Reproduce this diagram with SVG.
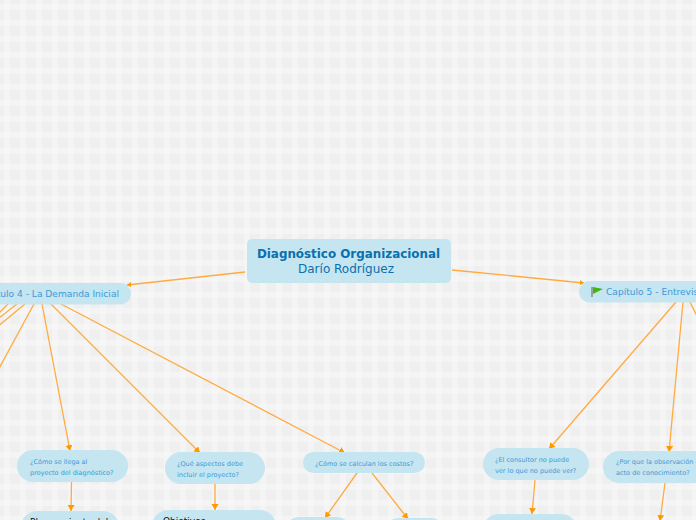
<svg xmlns="http://www.w3.org/2000/svg" width="696" height="520" viewBox="0 0 696 520">
<style>
.n{fill:#c5e5f1}
.c{stroke:#ffab40;stroke-width:1.300;fill:none;marker-end:url(#a)}
.s{stroke:#ffab40;stroke-width:1.300;fill:none;marker-end:url(#b)}
text{font-family:"DejaVu Sans",Verdana,sans-serif}
.h{font-size:9.100px;fill:#3d9ad8}
.q{font-size:6.500px;fill:#3d9ad8}
.k{font-size:9px;fill:#111}
</style>
<defs>
<pattern id="bg" width="16" height="16" patternUnits="userSpaceOnUse">
<rect width="16" height="16" fill="#efefef"/>
<rect x="4" width="6" height="16" fill="#f7f7f7" opacity=".7"/>
<rect y="4" width="16" height="6" fill="#f7f7f7" opacity=".7"/>
</pattern>
<marker id="a" markerUnits="userSpaceOnUse" markerWidth="9" markerHeight="8" refX="6" refY="3.500" orient="auto">
<path d="M0 0L6 3.500L0 7Z" fill="#ff9900"/>
</marker>
<marker id="b" markerUnits="userSpaceOnUse" markerWidth="6" markerHeight="6" refX="4" refY="2.500" orient="auto">
<path d="M0 0L4 2.500L0 5Z" fill="#ff9900"/>
</marker>
</defs>
<rect id="background" width="696" height="520" fill="url(#bg)"/>
<g id="connectors">
<path class="s" d="M245 272L127 285"/>
<path class="s" d="M452 270L584 283"/>
<path class="c" d="M61 304L345 453"/>
<path class="c" d="M51 304L200 453"/>
<path class="c" d="M42 304L70 451"/>
<path class="c" d="M34 304L-10 385"/>
<path class="c" d="M25 304L-10 333"/>
<path class="c" d="M17 304L-10 325"/>
<path class="c" d="M8 304L-10 322"/>
<path class="c" d="M676 302L549 449"/>
<path class="c" d="M683 302L669 452"/>
<path class="c" d="M690 302L712 346"/>
<path class="c" d="M71.500 482L71 511"/>
<path class="c" d="M215 484L215 510"/>
<path class="c" d="M357 473L325 518"/>
<path class="c" d="M372 473L408 519"/>
<path class="c" d="M535 480L532 514"/>
<path class="c" d="M665 483L660 521"/>
</g>
<g id="root">
<rect class="n" x="247" y="239" width="204" height="44" rx="5"/>
<text x="348.500" y="258" text-anchor="middle" font-size="11.900" font-weight="700" fill="#0a70ad">Diagnóstico Organizacional</text>
<text x="346" y="273" text-anchor="middle" font-size="12" fill="#0a70ad">Darío Rodríguez</text>
</g>
<g id="cap4">
<rect class="n" x="-40" y="283" width="171" height="21.500" rx="10.700"/>
<text class="h" x="119" y="297" text-anchor="end">Capítulo 4 - La Demanda Inicial</text>
</g>
<g id="cap5">
<rect class="n" x="579" y="281" width="160" height="21.500" rx="10.700"/>
<path d="M592 287V297" stroke="#8a8a8a" stroke-width="1.500"/>
<path d="M593 287L603 289L593 294Z" fill="#3fb80f"/>
<text class="h" x="606" y="295">Capítulo 5 - Entrevis</text>
</g>
<g id="q1">
<rect class="n" x="17" y="450" width="111" height="32" rx="16"/>
<text class="q" x="30" y="464">¿Cómo se llega al</text>
<text class="q" x="30" y="475">proyecto del diagnóstico?</text>
</g>
<g id="q2">
<rect class="n" x="165" y="452" width="100" height="32" rx="16"/>
<text class="q" x="177" y="466">¿Qué aspectos debe</text>
<text class="q" x="177" y="477">incluir el proyecto?</text>
</g>
<g id="q3">
<rect class="n" x="303" y="452" width="122" height="21" rx="10.500"/>
<text class="q" x="315" y="465.500">¿Cómo se calculan los costos?</text>
</g>
<g id="q4">
<rect class="n" x="483" y="448" width="106" height="32" rx="16"/>
<text class="q" x="495" y="462">¿El consultor no puede</text>
<text class="q" x="495" y="473">ver lo que no puede ver?</text>
</g>
<g id="q5">
<rect class="n" x="603" y="451" width="130" height="32" rx="16"/>
<text class="q" x="616" y="464">¿Por que la observación e</text>
<text class="q" x="616" y="475">acto de conocimiento?</text>
</g>
<g id="k1">
<rect class="n" x="21" y="511" width="98" height="40" rx="16"/>
<text class="k" x="30" y="525">Planeamiento del</text>
</g>
<g id="k2">
<rect class="n" x="152" y="510" width="124" height="40" rx="16"/>
<text class="k" x="163" y="524">Objetivos</text>
</g>
<g id="k3"><rect class="n" x="285" y="517" width="66" height="30" rx="14"/></g>
<g id="k4"><rect class="n" x="385" y="518" width="60" height="30" rx="14"/></g>
<g id="k5"><rect class="n" x="483" y="514" width="94" height="30" rx="16"/></g>
</svg>
